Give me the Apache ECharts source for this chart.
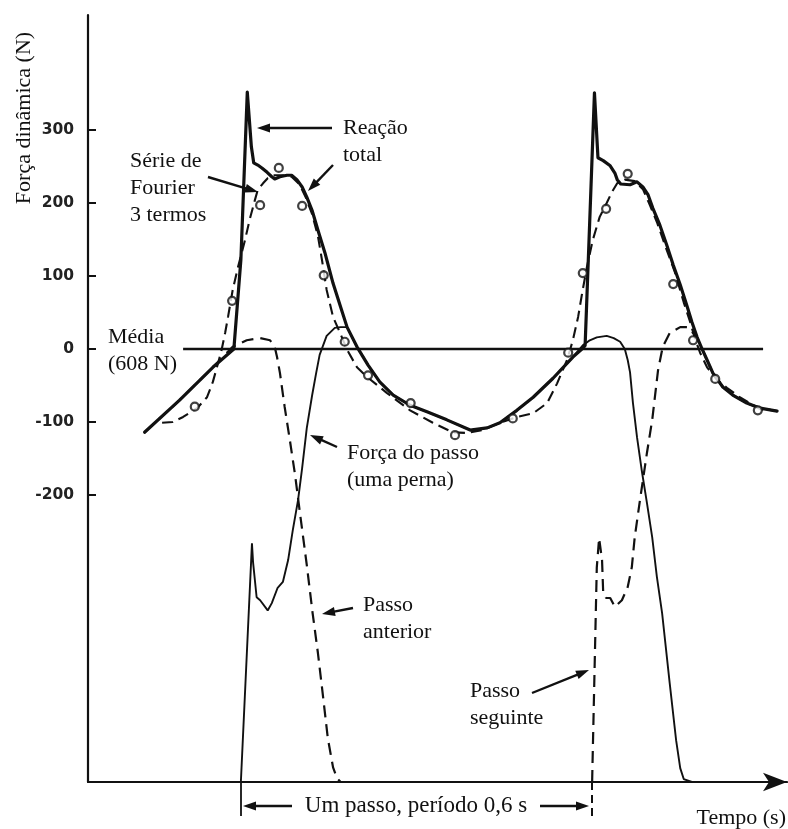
<!DOCTYPE html>
<html><head><meta charset="utf-8">
<script src="https://cdn.jsdelivr.net/npm/echarts@6/dist/echarts.min.js"></script>
<style>html,body{margin:0;padding:0;background:#fff}#c{width:788px;height:829px}</style>
</head><body><div id="c"></div>
<script>
// ---- data (time in s from start of the step, force in N relative to the mean 608 N)
const yTickValues = [-200, -100, 0, 100, 200, 300];

const totalReaction = [
 [-0.165,-114],[-0.105,-70],[-0.048,-25],[-0.012,0],[0.000,122],[0.011,352],[0.018,277],[0.022,255],
 [0.029,252],[0.036,248],[0.045,242],[0.053,236],[0.058,233],[0.067,236],[0.079,238],[0.087,238],
 [0.096,232],[0.105,222],[0.113,208],[0.122,190],[0.132,163],[0.144,132],[0.158,90],[0.170,60],
 [0.182,30],[0.199,3],[0.218,-22],[0.238,-45],[0.261,-63],[0.290,-77],[0.319,-86],[0.353,-97],
 [0.393,-111],[0.422,-108],[0.444,-101],[0.473,-84],[0.501,-66],[0.535,-40],[0.569,-11],[0.586,1],
 [0.590,5],[0.598,177],[0.606,351],[0.612,262],[0.621,258],[0.633,251],[0.641,241],[0.645,232],
 [0.651,226],[0.667,225],[0.679,229],[0.689,222],[0.698,211],[0.706,193],[0.718,170],[0.730,142],
 [0.741,115],[0.753,88],[0.765,58],[0.773,37],[0.782,16],[0.790,1],[0.799,-15],[0.809,-33],
 [0.826,-52],[0.843,-63],[0.867,-74],[0.890,-81],[0.919,-85]
];

const fourierSeries = [
 [-0.135,-101],[-0.117,-100],[-0.099,-93],[-0.075,-81],[-0.058,-66],[-0.048,-45],[-0.039,-19],[-0.033,-1],
 [-0.027,22],[-0.022,44],[-0.014,81],[-0.005,112],[0.007,149],[0.015,177],[0.024,204],[0.029,218],
 [0.038,227],[0.046,234],[0.058,238],[0.072,238],[0.087,236],[0.101,225],[0.111,208],[0.122,185],
 [0.132,155],[0.139,122],[0.147,81],[0.158,44],[0.170,22],[0.182,-1],[0.199,-25],[0.216,-38],
 [0.250,-60],[0.290,-84],[0.329,-101],[0.363,-114],[0.387,-115],[0.415,-111],[0.444,-101],[0.473,-93],
 [0.501,-88],[0.525,-74],[0.542,-47],[0.559,-15],[0.569,12],[0.578,44],[0.585,77],[0.593,112],
 [0.603,149],[0.615,181],[0.627,200],[0.636,215],[0.645,227],[0.658,232],[0.675,230],[0.689,219],
 [0.701,197],[0.713,174],[0.727,142],[0.744,105],[0.759,64],[0.770,37],[0.778,15],[0.787,-5],
 [0.799,-25],[0.816,-42],[0.833,-53],[0.855,-66],[0.878,-77],[0.898,-84]
];

const fourierSamples = [
 [-0.079,-79],[-0.015,66],[0.033,197],[0.065,248],[0.105,196],[0.142,101],[0.178,10],[0.218,-36],
 [0.291,-74],[0.367,-118],[0.466,-95],[0.561,-5],[0.586,104],[0.626,192],[0.663,240],[0.741,89],
 [0.775,12],[0.813,-41],[0.886,-84]
];

const meanLine = [[-0.099,0],[0.895,0]];

const currentStep = [
 [0.000,-593],[0.019,-266],[0.021,-293],[0.027,-340],[0.033,-344],[0.046,-358],[0.053,-348],[0.063,-327],
 [0.072,-319],[0.081,-289],[0.089,-248],[0.098,-207],[0.105,-163],[0.113,-108],[0.122,-64],[0.129,-33],
 [0.135,-8],[0.147,18],[0.161,29],[0.171,30],[0.182,30],[0.199,3],[0.218,-22],[0.238,-45],
 [0.261,-63],[0.290,-77],[0.319,-86],[0.353,-97],[0.393,-111],[0.422,-108],[0.444,-101],[0.473,-84],
 [0.501,-66],[0.535,-40],[0.569,-11],[0.586,5],[0.598,12],[0.610,16],[0.627,18],[0.639,15],
 [0.650,10],[0.658,0],[0.663,-15],[0.667,-32],[0.672,-74],[0.679,-121],[0.687,-166],[0.696,-211],
 [0.705,-258],[0.713,-312],[0.722,-362],[0.735,-458],[0.746,-536],[0.753,-574],[0.759,-589],[0.773,-593]
];

const previousStep = [
 [-0.165,-114],[-0.105,-70],[-0.048,-25],[-0.014,3],[0.010,12],[0.033,15],[0.050,12],[0.058,3],
 [0.062,-11],[0.067,-33],[0.075,-79],[0.084,-125],[0.093,-173],[0.101,-223],[0.113,-296],[0.123,-362],
 [0.132,-416],[0.141,-477],[0.149,-533],[0.158,-573],[0.165,-588],[0.171,-593]
];

const nextStep = [
 [0.602,-593],[0.610,-299],[0.614,-259],[0.619,-289],[0.621,-334],[0.626,-341],[0.633,-341],[0.641,-353],
 [0.653,-344],[0.663,-326],[0.670,-299],[0.675,-258],[0.684,-207],[0.696,-142],[0.705,-97],[0.715,-29],
 [0.723,3],[0.735,22],[0.753,30],[0.765,30],[0.775,22],[0.782,16],[0.790,1],[0.799,-15],
 [0.809,-33],[0.826,-52],[0.843,-63],[0.867,-74],[0.890,-81],[0.919,-85]
];

// ---- chart
const SERIF = '"Liberation Serif", "Times New Roman", serif';
const INK = '#111';
const chart = echarts.init(document.getElementById('c'), null, {renderer: 'canvas'});

function arrow(x1, y1, x2, y2, len, w) {
  len = len || 13; w = w || 9;
  const dx = x2 - x1, dy = y2 - y1, L = Math.hypot(dx, dy);
  const ux = dx / L, uy = dy / L;
  const bx = x2 - ux * len, by = y2 - uy * len;
  return [
    {type: 'line', silent: true, shape: {x1: x1, y1: y1, x2: bx + ux * 2, y2: by + uy * 2},
     style: {stroke: INK, lineWidth: 2.4}},
    {type: 'polygon', silent: true,
     shape: {points: [[x2, y2], [bx - uy * w / 2, by + ux * w / 2], [bx + uy * w / 2, by - ux * w / 2]]},
     style: {fill: INK}}
  ];
}
function label(text, x, y, align) {
  return {type: 'text', silent: true, x: x, y: y,
    style: {text: text, font: '22px ' + SERIF, fill: INK, align: align || 'left',
            verticalAlign: 'top', lineHeight: 27}};
}

const graphics = [].concat(
  [label('Reação\ntotal', 343, 115)],
  [label('Série de\nFourier\n3 termos', 130, 148)],
  [label('Média\n(608 N)', 108, 324)],
  [label('Força do passo\n(uma perna)', 347, 440)],
  [label('Passo\nanterior', 363, 592)],
  [label('Passo\nseguinte', 470, 678)],
  [{type: 'text', silent: true, x: 416, y: 806,
    style: {text: 'Um passo, período 0,6 s', font: '23px ' + SERIF, fill: INK, align: 'center', verticalAlign: 'middle'}}],
  [{type: 'text', silent: true, x: 786, y: 818,
    style: {text: 'Tempo (s)', font: '22px ' + SERIF, fill: INK, align: 'right', verticalAlign: 'middle'}}],
  [{type: 'text', silent: true, x: 24, y: 118, rotation: Math.PI / 2,
    style: {text: 'Força dinâmica (N)', font: '22px ' + SERIF, fill: INK, align: 'center', verticalAlign: 'middle'}}],
  arrow(332, 128, 257, 128),
  arrow(208, 177, 258, 192),
  arrow(333, 165, 308, 191),
  arrow(337, 447, 310, 435),
  arrow(353, 608, 322, 614),
  arrow(532, 693, 589, 670),
  arrow(292, 806, 243, 806),
  arrow(540, 806, 589, 806),
  [{type: 'line', silent: true, shape: {x1: 241, y1: 782, x2: 241, y2: 816}, style: {stroke: INK, lineWidth: 1.8}},
   {type: 'line', silent: true, shape: {x1: 592, y1: 782, x2: 592, y2: 816}, style: {stroke: INK, lineWidth: 2, lineDash: [8, 5]}}]
);

chart.setOption({
  animation: false,
  backgroundColor: '#fff',
  grid: {left: 88, right: 1, top: 15, bottom: 47, containLabel: false, outerBoundsMode: 'none'},
  xAxis: {
    type: 'value', min: -0.262, max: 0.936,
    axisLine: {show: true, onZero: false, symbol: ['none', 'arrow'], symbolSize: [14, 24], symbolOffset: [0, 0],
               lineStyle: {color: INK, width: 2.2}},
    axisTick: {show: false}, axisLabel: {show: false}, splitLine: {show: false}
  },
  yAxis: {
    type: 'value', min: -593, max: 457.5,
    axisLine: {show: true, onZero: false, lineStyle: {color: INK, width: 2.2}},
    axisTick: {show: true, inside: true, length: 8, customValues: yTickValues, lineStyle: {color: INK, width: 2}},
    axisLabel: {show: true, customValues: yTickValues, margin: 14, color: '#222',
                fontFamily: '"DejaVu Sans", sans-serif', fontWeight: 'bold', fontSize: 15.5,
                formatter: function (v) { return v < 0 ? '-' + Math.abs(v) : String(v); }},
    splitLine: {show: false}
  },
  graphic: graphics,
  series: [
    {type: 'line', name: 'Média', data: meanLine, symbol: 'none', lineStyle: {color: INK, width: 2.5}, z: 2},
    {type: 'line', name: 'Passo anterior', data: previousStep, symbol: 'none',
     lineStyle: {color: INK, width: 2.2, type: [12, 7]}, z: 3},
    {type: 'line', name: 'Passo seguinte', data: nextStep, symbol: 'none',
     lineStyle: {color: INK, width: 2.2, type: [12, 7]}, z: 3},
    {type: 'line', name: 'Força do passo', data: currentStep, symbol: 'none',
     lineStyle: {color: INK, width: 1.9}, z: 3},
    {type: 'line', name: 'Série de Fourier', data: fourierSeries, symbol: 'none',
     lineStyle: {color: INK, width: 2.1, type: [11, 6]}, z: 4},
    {type: 'line', name: 'Reação total', data: totalReaction, symbol: 'none',
     lineStyle: {color: INK, width: 3.2, join: 'round', cap: 'round'}, z: 5},
    {type: 'scatter', name: 'Amostras', data: fourierSamples, symbol: 'circle', symbolSize: 8,
     itemStyle: {color: '#fff', borderColor: INK, borderWidth: 2.2}, z: 6}
  ]
});
</script>
</body></html>
